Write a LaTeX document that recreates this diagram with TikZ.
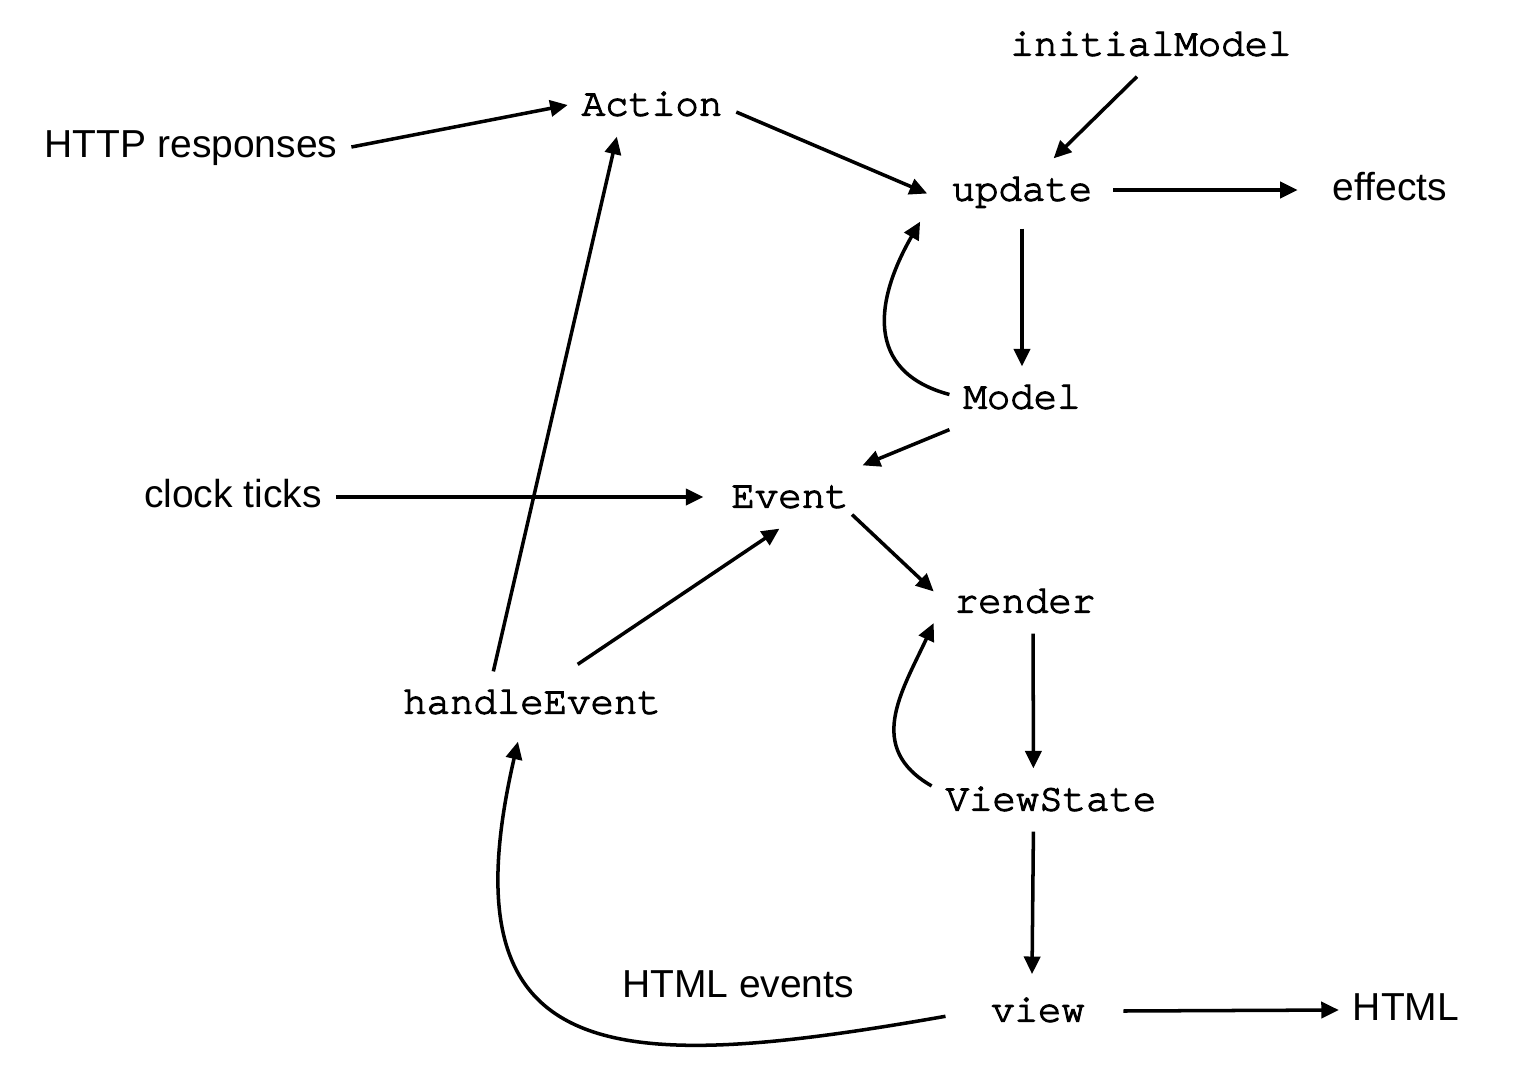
\documentclass[tikz,border=0pt]{standalone}
\usepackage{fontspec}
\setmainfont{Liberation Sans}
\newfontfamily\codefont{TeX Gyre Cursor}[RawFeature={embolden=3}]
\usetikzlibrary{arrows.meta}
\tikzset{
  fn/.style={font=\codefont\fontsize{11.1}{13}\selectfont, inner sep=0pt, outer sep=4pt, text height=8pt, text depth=2pt},
  lbl/.style={font=\fontsize{11.1}{13}\selectfont, inner sep=0pt, outer sep=4pt, text height=8pt, text depth=2pt},
  arr/.style={line width=1pt, -{Triangle[length=5pt,width=4.6pt]}}
}
\begin{document}
\begin{tikzpicture}
  \useasboundingbox (0,0) rectangle (15.2,-10.76);
  % Functions and values
  \node[fn] (init)   at (11.51,-0.45) {initialModel};
  \node[fn] (action) at (6.52,-1.05)  {Action};
  \node[fn] (update) at (10.22,-1.90) {update};
  \node[fn] (model)  at (10.22,-3.98) {Model};
  \node[fn] (event)  at (7.90,-4.97)  {Event};
  \node[fn] (render) at (10.25,-6.02) {render};
  \node[fn] (handle) at (5.32,-7.03)  {handleEvent};
  \node[fn] (vstate) at (10.51,-8.00) {ViewState};
  \node[fn] (view)   at (10.38,-10.11) {view};
  % Inputs and outputs
  \node[lbl] (http)    at (1.91,-1.47)  {HTTP responses};
  \node[lbl] (effects) at (13.90,-1.90) {effects};
  \node[lbl] (clock)   at (2.33,-4.97)  {clock ticks};
  \node[lbl] (html)    at (14.06,-10.10) {HTML};
  \node[lbl] (htmlev)  at (7.38,-9.87)  {HTML events};
  % Straight arrows
  \draw[arr] (http.east) -- (action.west);
  \draw[arr] ([yshift=-2pt]action.east) -- ([xshift=-3pt,yshift=-1pt]update.west);
  \draw[arr] ([xshift=-4pt]init.south) -- ([xshift=9pt]update.north);
  \draw[arr] ([xshift=2pt]update.east) -- ([xshift=-6pt]effects.west);
  \draw[arr] ([yshift=-2pt]update.south) -- (model.north);
  \draw[arr] (model.south west) -- (event.north east);
  \draw[arr] (clock.east) -- ([xshift=-4pt]event.west);
  \draw[arr] ([xshift=-3pt,yshift=4pt]event.south east) -- ([xshift=-2pt,yshift=-6pt]render.north west);
  \draw[arr] ([xshift=2.3pt]render.south) -- ([xshift=-5pt]vstate.north);
  \draw[arr] ([xshift=-5pt]vstate.south) -- ([xshift=-1.7pt,yshift=1.5pt]view.north);
  \draw[arr] ([xshift=7pt]view.east) -- (html.west);
  \draw[arr] ([xshift=13pt,yshift=2pt]handle.north) -- ([xshift=-3pt]event.south);
  \draw[arr] ([xshift=-11pt]handle.north) -- ([xshift=-10pt]action.south);
  % Curved arrows
  \draw[arr] ([yshift=1pt]model.west) to[out=165,in=-120,looseness=1.3] ([xshift=-5pt]update.south west);
  \draw[arr] ([yshift=4pt]vstate.west) to[out=150,in=-115,looseness=1.2] ([xshift=-2pt,yshift=3pt]render.south west);
  \draw[arr] ([xshift=-9pt,yshift=-1.5pt]view.west) to[out=190,in=-103,looseness=1.7] ([xshift=-4pt,yshift=-2pt]handle.south);
\end{tikzpicture}
\end{document}
